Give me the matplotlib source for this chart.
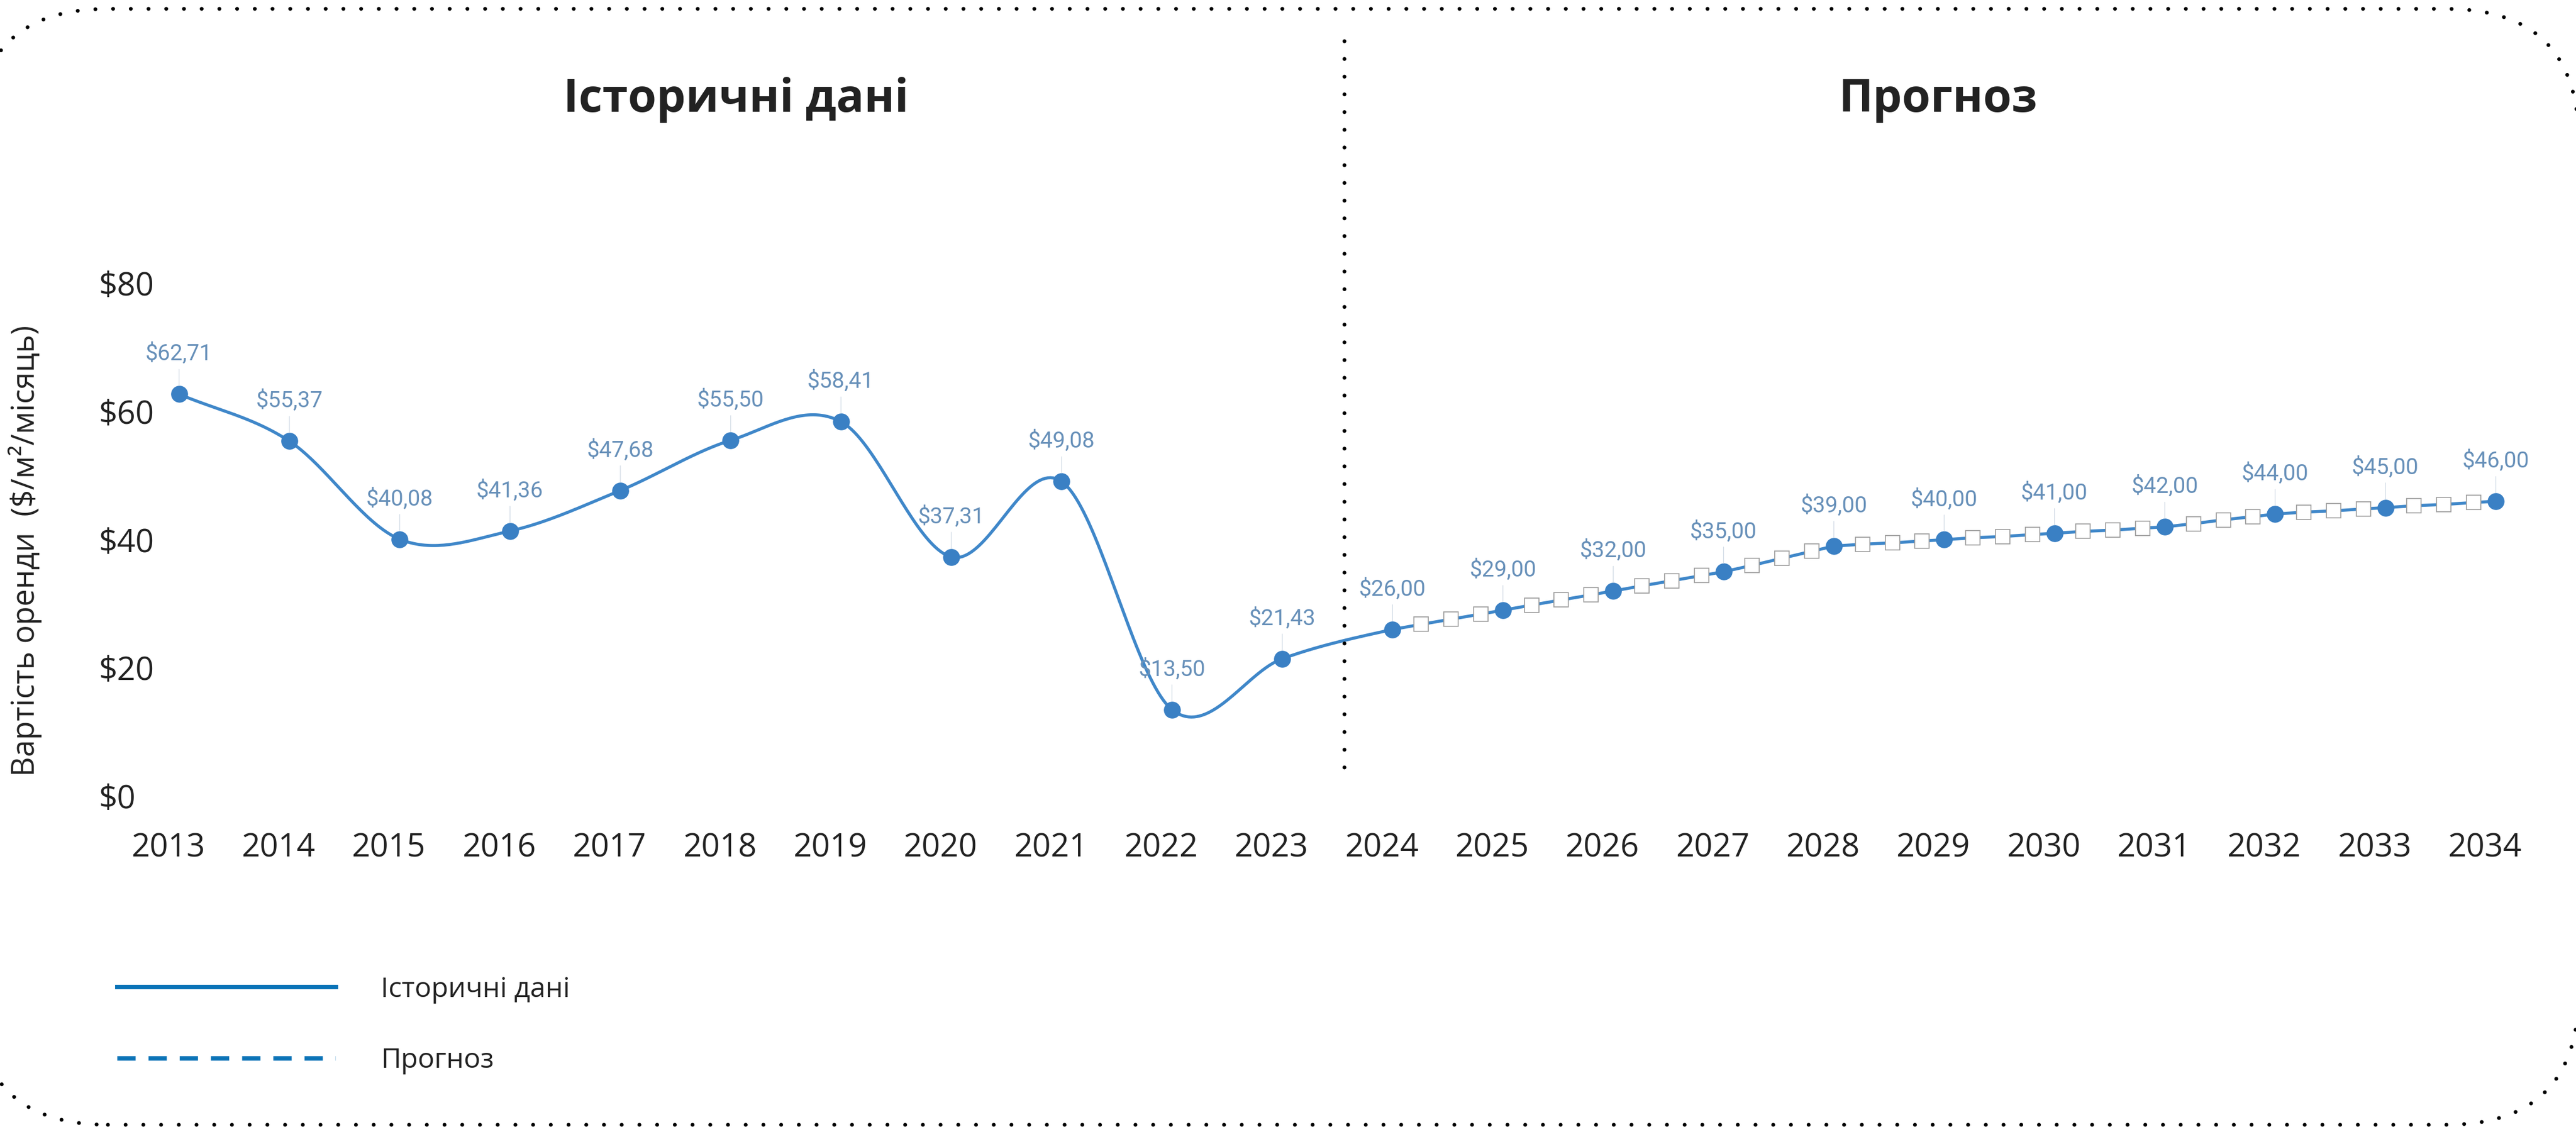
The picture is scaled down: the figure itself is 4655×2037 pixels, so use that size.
import numpy as np
import matplotlib
matplotlib.use("Agg")
import matplotlib.pyplot as plt
from matplotlib import patches, transforms
from matplotlib.lines import Line2D

# ---------------- data ----------------
hist_years = [2013, 2014, 2015, 2016, 2017, 2018, 2019, 2020, 2021, 2022, 2023]
hist_values = [62.71, 55.37, 40.08, 41.36, 47.68, 55.50, 58.41, 37.31, 49.08, 13.50, 21.43]

fc_years = [2024, 2025, 2026, 2027, 2028, 2029, 2030, 2031, 2032, 2033, 2034]
fc_values = [26.00, 29.00, 32.00, 35.00, 39.00, 40.00, 41.00, 42.00, 44.00, 45.00, 46.00]

# intermediate (sub-annual) forecast points, white squares
sub_years = [y + f for y in range(2024, 2034) for f in (0.26, 0.53, 0.80)]
sub_values = [26.8, 27.6, 28.4,
              29.8, 30.6, 31.4,
              32.8, 33.6, 34.4,
              36.0, 37.1, 38.2,
              39.3, 39.5, 39.8,
              40.3, 40.5, 40.8,
              41.3, 41.5, 41.8,
              42.5, 43.1, 43.6,
              44.3, 44.5, 44.8,
              45.3, 45.5, 45.8]

y_ticks = [0, 20, 40, 60, 80]
y_tick_labels = ["$0", "$20", "$40", "$60", "$80"]
x_ticks = list(range(2013, 2035))
divider_year = 2023.56

title_hist = "Історичні дані"
title_fc = "Прогноз"
y_label = "Вартість оренди  ($/м²/місяць)"
legend_labels = ["Історичні дані", "Прогноз"]

# ---------------- style ----------------
W, H, DPI = 4655, 2037, 100
LINE_C = "#3f87c9"
MARK_C = "#3a80c4"
LABEL_C = "#6790b9"
LEG_C = "#0a73b7"
TEXT_C = "#222222"
SANS = ["Open Sans", "DejaVu Sans"]
plt.rcParams["font.family"] = SANS


def catmull_rom(xs, ys, n=40):
    xs = np.asarray(xs, float)
    ys = np.asarray(ys, float)
    px = np.concatenate([[2 * xs[0] - xs[1]], xs, [2 * xs[-1] - xs[-2]]])
    py = np.concatenate([[2 * ys[0] - ys[1]], ys, [2 * ys[-1] - ys[-2]]])
    ox, oy = [], []
    t = np.linspace(0, 1, n, endpoint=False)
    for i in range(1, len(px) - 2):
        x0, x1, x2, x3 = px[i - 1:i + 3]
        y0, y1, y2, y3 = py[i - 1:i + 3]
        t2, t3 = t * t, t * t * t
        for p0, p1, p2, p3, out in ((x0, x1, x2, x3, ox), (y0, y1, y2, y3, oy)):
            out.extend(0.5 * ((2 * p1) + (-p0 + p2) * t +
                              (2 * p0 - 5 * p1 + 4 * p2 - p3) * t2 +
                              (-p0 + 3 * p1 - 3 * p2 + p3) * t3))
    ox.append(xs[-1]); oy.append(ys[-1])
    return np.array(ox), np.array(oy)


fig = plt.figure(figsize=(W / DPI, H / DPI), dpi=DPI)
fig.patch.set_facecolor("white")

ax_left, ax_right = 323.6, 4510.0
ax_top, ax_bottom = 512.0, 1439.0
ax = fig.add_axes([ax_left / W, 1 - ax_bottom / H, (ax_right - ax_left) / W, (ax_bottom - ax_top) / H])
ax.set_xlim(2013, 2034)
ax.set_ylim(0, 80)
ax.patch.set_alpha(0)
for s in ax.spines.values():
    s.set_visible(False)

# smooth historical curve (continues into 2024)
sx, sy = catmull_rom(hist_years + fc_years[:2], hist_values + fc_values[:2])
mask = sx <= fc_years[0] + 1e-9
ax.plot(sx[mask], sy[mask], color=LINE_C, lw=4, solid_capstyle="round", zorder=3, clip_on=False)

# forecast polyline through circles and squares
all_fx = np.array(fc_years + sub_years, float)
all_fy = np.array(fc_values + sub_values, float)
order = np.argsort(all_fx)
ax.plot(all_fx[order], all_fy[order], color=LINE_C, lw=4, solid_capstyle="round", zorder=3, clip_on=False)

ax.plot(sub_years, sub_values, linestyle="none", marker="s", markersize=19,
        markerfacecolor="white", markeredgecolor="#a0a0a0", markeredgewidth=1.3, zorder=4, clip_on=False)
ax.plot(hist_years + fc_years, hist_values + fc_values, linestyle="none", marker="o", markersize=21,
        markerfacecolor=MARK_C, markeredgecolor=MARK_C, zorder=5, clip_on=False)

# value labels with leader lines
for x, v in zip(hist_years + fc_years, hist_values + fc_values):
    txt = "$" + f"{v:.2f}".replace(".", ",")
    ax.annotate(txt, xy=(x, v), xytext=(0, 44), textcoords="offset points",
                ha="center", va="baseline", fontsize=29, color=LABEL_C,
                family=["Roboto", "DejaVu Sans"], zorder=6,
                arrowprops=dict(arrowstyle="-", color="#cfd9e4", lw=0.9, shrinkA=4, shrinkB=11))

# axes ticks
ax.set_yticks(y_ticks)
ax.set_yticklabels(y_tick_labels)
ax.set_xticks(x_ticks)
ax.set_xticklabels([str(x) for x in x_ticks])
ax.tick_params(axis="both", length=0, labelsize=42, labelcolor=TEXT_C)
ax.tick_params(axis="y", pad=(ax_left - 178) * 72 / DPI)
ax.tick_params(axis="x", pad=47)
for lab in ax.get_yticklabels():
    lab.set_horizontalalignment("left")
off = transforms.ScaledTranslation(-20 / DPI, 0, fig.dpi_scale_trans)
for lab in ax.get_xticklabels():
    lab.set_transform(lab.get_transform() + off)

# y label
fig.text(45 / W, 1 - 995 / H, y_label, rotation=90, ha="center", va="center",
         fontsize=40, color=TEXT_C)

# section titles
fig.text(1330 / W, 1 - 202 / H, title_hist, ha="center", va="baseline",
         fontsize=60, fontweight="bold", color=TEXT_C)
fig.text(3502 / W, 1 - 202 / H, title_fc, ha="center", va="baseline",
         fontsize=60, fontweight="bold", color=TEXT_C)

# vertical dotted divider
btr = transforms.blended_transform_factory(ax.transData, fig.transFigure)
vline = Line2D([divider_year, divider_year], [1 - 74 / H, 1 - 1395 / H], transform=btr,
               color="black", lw=5, linestyle=(0, (0.01, 4.6)), dash_capstyle="round")
fig.add_artist(vline)

# rounded dotted frame (pixel coordinates); white face avoids canvas-edge clipping artefacts
f_left, f_right, f_top, f_bottom = -45, 4660, 16, 2033
frame = patches.FancyBboxPatch((f_left, H - f_bottom), f_right - f_left, f_bottom - f_top,
                               boxstyle="round,pad=0,rounding_size=240",
                               transform=transforms.IdentityTransform(),
                               facecolor="white", edgecolor="black", lw=5,
                               linestyle=(0, (0.01, 4.6)), zorder=-1)
frame.set_capstyle("round")
fig.add_artist(frame)

# legend
handles = [Line2D([], [], color=LEG_C, lw=5.8),
           Line2D([], [], color=LEG_C, lw=5.8, linestyle=(0, (4.1, 2.9)))]
fig.legend(handles, legend_labels, loc="upper left", bbox_to_anchor=(212 / W, 1 - 1764 / H),
           frameon=False, fontsize=36, handlelength=7.9, handletextpad=1.62,
           labelspacing=1.58, borderpad=0, borderaxespad=0, labelcolor=TEXT_C)

fig.savefig("out.png", dpi=DPI, facecolor="white")
